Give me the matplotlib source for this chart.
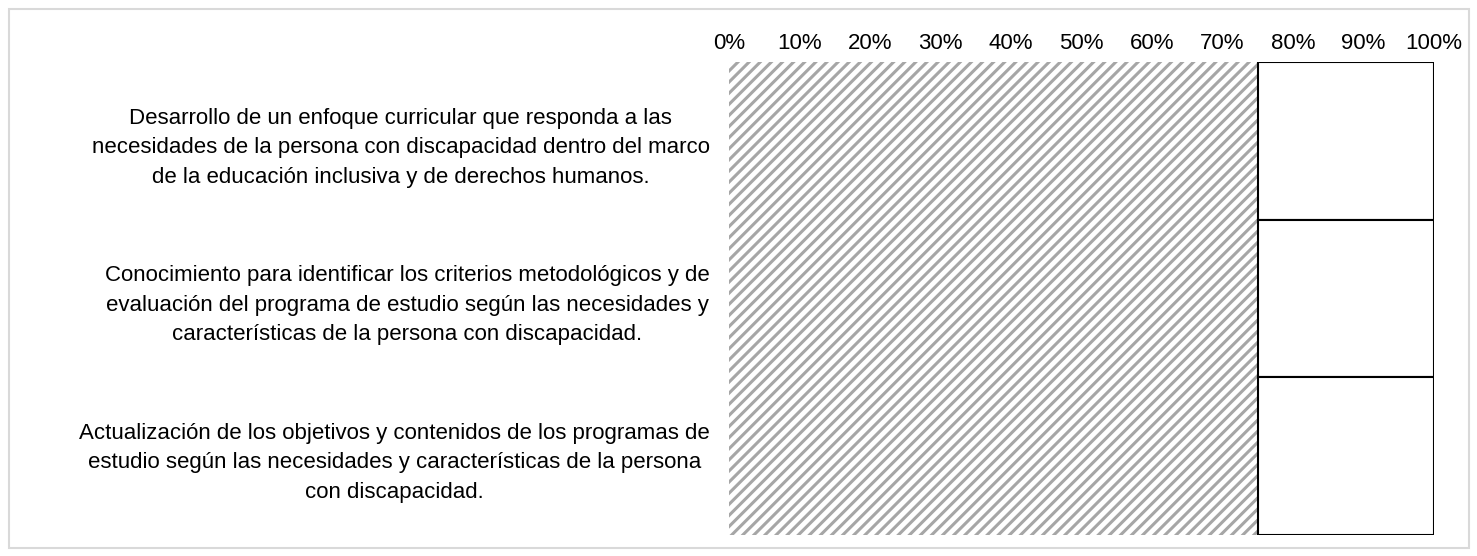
import matplotlib
matplotlib.use("Agg")
import matplotlib.pyplot as plt
from matplotlib.patches import Rectangle

plt.rcParams['font.family'] = ['Liberation Sans', 'DejaVu Sans']
plt.rcParams['hatch.linewidth'] = 2.2
plt.rcParams['hatch.color'] = '#a6a6a6'

categories = [
    "Desarrollo de un enfoque curricular que responda a las\nnecesidades de la persona con discapacidad dentro del marco\nde la educación inclusiva y de derechos humanos.",
    "Conocimiento para identificar los criterios metodológicos y de\nevaluación del programa de estudio según las necesidades y\ncaracterísticas de la persona con discapacidad.",
    "Actualización de los objetivos y contenidos de los programas de\nestudio según las necesidades y características de la persona\ncon discapacidad.",
]
serie_a = [75, 75, 75]
serie_b = [25, 25, 25]
tick_vals = [0, 10, 20, 30, 40, 50, 60, 70, 80, 90, 100]
tick_labels = [f"{v}%" for v in tick_vals]

W, H = 1477, 556
fig = plt.figure(figsize=(W/100, H/100), dpi=100)
ax = fig.add_axes([729/W, 1 - 535/H, (1434-729)/W, (535-62)/H])

y = list(range(len(categories)))
ax.barh(y, serie_a, height=1.0, color='white', hatch='///', edgecolor='#a6a6a6', linewidth=0)
ax.barh(y, serie_b, left=serie_a, height=1.0, color='white', edgecolor='black', linewidth=1.5)

ax.set_xlim(0, 100)
ax.set_ylim(len(categories) - 0.5, -0.5)
ax.set_yticks(y)
ax.set_yticklabels(categories, fontsize=16, multialignment='center', linespacing=1.54)
ax.set_xticks(tick_vals)
ax.set_xticklabels(tick_labels, fontsize=16)
ax.xaxis.tick_top()
ax.tick_params(axis='both', length=0)
ax.tick_params(axis='x', pad=6)
ax.tick_params(axis='y', pad=14)
for s in ax.spines.values():
    s.set_visible(False)

fig.patches.append(Rectangle((9/W, 1 - 548/H), (1469-9)/W, (548-9)/H, transform=fig.transFigure,
                             fill=False, edgecolor='#d9d9d9', linewidth=1.5))

fig.savefig('out.png', dpi=100)
